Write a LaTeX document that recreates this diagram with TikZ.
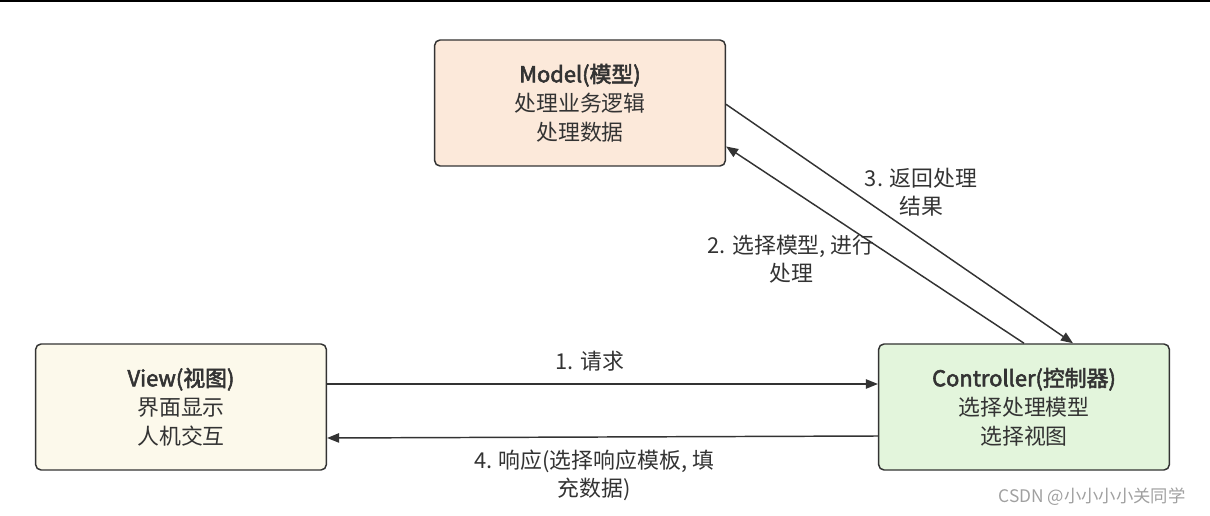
\documentclass[tikz,border=0pt]{standalone}
\usepackage{fontspec}
\setmainfont{Noto Sans CJK SC}
\newfontfamily\titlefont{Noto Sans CJK SC}[FakeBold=2.5]
\usetikzlibrary{arrows.meta}

\definecolor{modelfill}{HTML}{FCE9DA}
\definecolor{viewfill}{HTML}{FCF9EB}
\definecolor{ctrlfill}{HTML}{E3F5DC}
\definecolor{boxline}{HTML}{333333}
\definecolor{textgray}{HTML}{333333}
\definecolor{markgray}{HTML}{A0A0A0}

\tikzset{
  block/.style={draw=boxline, line width=1.1pt, rounded corners=4pt,
    minimum width=218pt, minimum height=94.5pt, align=center,
    text=textgray, font=\fontsize{16.4}{21.75}\selectfont},
  flow/.style={draw=boxline, line width=1.1pt, -{Triangle[length=9pt,width=7pt]}},
  flowlabel/.style={align=center, text=textgray, font=\fontsize{16.4}{21}\selectfont}
}

\begin{document}
\begin{tikzpicture}[x=0.75pt,y=-0.75pt]
\useasboundingbox (0,0) rectangle (1210,516);

% top rule
\draw[line width=1.5pt] (0,0.8) -- (1210,0.8);

% model node
\node[block,fill=modelfill] (model) at (580,103) {{\titlefont Model(模型)}\\处理业务逻辑\\处理数据};

% view node
\node[block,fill=viewfill] (view) at (181,407) {{\titlefont View(视图)}\\界面显示\\人机交互};

% controller node
\node[block,fill=ctrlfill] (controller) at (1024,407) {{\titlefont Controller(控制器)}\\选择处理模型\\选择视图};

% request / response
\draw[flow] ([yshift=17.25pt]view.east) -- ([yshift=17.25pt]controller.west);
\node[flowlabel] (request) at (590,361) {1. 请求};

\draw[flow] ([yshift=-21.75pt]controller.west) -- ([yshift=-23.25pt]view.east);
\node[flowlabel] (response) at (594,475) {4. 响应(选择响应模板, 填\\充数据)};

% controller <-> model
\draw[flow] (controller.north) -- ([yshift=-32.6pt]model.east);
\node[flowlabel] (select) at (791,259) {2. 选择模型, 进行\\处理};

\draw[flow] ([yshift=-1pt]model.east) -- ([xshift=36.75pt]controller.north);
\node[flowlabel] (result) at (921,192) {3. 返回处理\\结果};

% watermark
\node[text=markgray,font=\fontsize{13}{15}\selectfont] (mark) at (1092,497) {CSDN @小小小小关同学};

\end{tikzpicture}
\end{document}
